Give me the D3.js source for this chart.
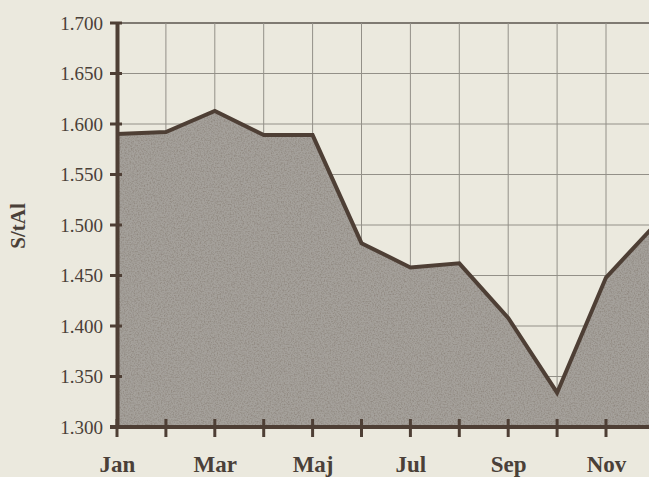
<!DOCTYPE html>
<html>
<head>
<meta charset="utf-8">
<script src="https://cdn.jsdelivr.net/npm/d3@7/dist/d3.min.js"></script>
<style>
html,body{margin:0;padding:0;background:#ebe9de;}
svg{display:block;}
</style>
</head>
<body>
<svg id="chart" width="649" height="477"></svg>
<script>
const months = ["Jan","Feb","Mar","Apr","Maj","Jun","Jul","Aug","Sep","Okt","Nov","Dec"];
const values = [1.590, 1.592, 1.613, 1.589, 1.589, 1.482, 1.458, 1.462, 1.408, 1.334, 1.448, 1.500];
const labelledMonths = ["Jan","Mar","Maj","Jul","Sep","Nov"];
const yTicks = [1.300, 1.350, 1.400, 1.450, 1.500, 1.550, 1.600, 1.650, 1.700];
const yTitle = "S/tAl";

(function () {
const svg = d3.select("#chart");
const W = 649, H = 477;
const mLeft = 117, mTop = 23, mBottom = 427;
const step = 48.9;

const x = d3.scalePoint().domain(months).range([mLeft, mLeft + step * (months.length - 1)]);
const y = d3.scaleLinear().domain([1.3, 1.7]).range([mBottom, mTop]);

svg.append("rect").attr("width", W).attr("height", H).attr("fill", "#ebe9de");

const ink = "#4e3f35";
const grid = "#939088";

// grid lines
svg.append("g").selectAll("line").data(yTicks.slice(1)).join("line")
  .attr("x1", mLeft).attr("x2", W)
  .attr("y1", d => y(d)).attr("y2", d => y(d))
  .attr("stroke", d => d === 1.7 ? "#7f7a72" : grid).attr("stroke-width", d => d === 1.7 ? 2.2 : 1);
svg.append("g").selectAll("line").data(months.slice(1)).join("line")
  .attr("x1", d => x(d)).attr("x2", d => x(d))
  .attr("y1", mTop).attr("y2", mBottom)
  .attr("stroke", grid).attr("stroke-width", 1);

// texture filter
const defs = svg.append("defs");
const f = defs.append("filter").attr("id", "grain").attr("x", 0).attr("y", 0).attr("width", 1).attr("height", 1);
f.append("feTurbulence").attr("type", "fractalNoise").attr("baseFrequency", 0.7).attr("numOctaves", 2).attr("seed", 3).attr("result", "n");
f.append("feColorMatrix").attr("in", "n").attr("type", "matrix")
  .attr("values", "0 0 0 0 0.28  0 0 0 0 0.25  0 0 0 0 0.22  0 0 0 -2.2 1.35").attr("result", "dark");
f.append("feComposite").attr("in", "dark").attr("in2", "SourceGraphic").attr("operator", "in").attr("result", "d2");
f.append("feMerge").selectAll("feMergeNode").data(["SourceGraphic", "d2"]).join("feMergeNode").attr("in", d => d);

const pts = months.map((m, i) => [m, values[i]]);
const area = d3.area().x(d => x(d[0])).y0(mBottom).y1(d => y(d[1])).curve(d3.curveLinear);
svg.append("path").datum(pts).attr("d", area).attr("fill", "#a5a19b").attr("filter", "url(#grain)");

const line = d3.line().x(d => x(d[0])).y(d => y(d[1]));
svg.append("path").datum(pts).attr("d", line)
  .attr("fill", "none").attr("stroke", ink).attr("stroke-width", 4).attr("stroke-linejoin", "miter");

// y axis
const yAxis = d3.axisLeft(y).tickValues(yTicks).tickFormat(d3.format(".3f")).tickSize(0).tickPadding(14);
const ya = svg.append("g").attr("transform", `translate(${mLeft},0)`).call(yAxis);
ya.select(".domain").attr("stroke", ink).attr("stroke-width", 4);
ya.selectAll("text").attr("font-family", "Liberation Serif, serif").attr("font-size", 19).attr("fill", "#4a4038").attr("dy", "0.32em");
svg.append("g").selectAll("line").data(yTicks).join("line")
  .attr("x1", mLeft - 7).attr("x2", mLeft + 5)
  .attr("y1", d => y(d)).attr("y2", d => y(d))
  .attr("stroke", ink).attr("stroke-width", 3);

// x axis
const xAxis = d3.axisBottom(x).tickValues(labelledMonths).tickSize(0).tickPadding(29);
const xa = svg.append("g").attr("transform", `translate(0,${mBottom})`).call(xAxis);
xa.select(".domain").attr("stroke", ink).attr("stroke-width", 4).attr("d", `M${mLeft - 7},0H${W}`);
xa.selectAll("text").attr("font-family", "Liberation Serif, serif").attr("font-weight", "bold").attr("font-size", 23).attr("fill", "#4a4038");
svg.append("g").selectAll("line").data(months).join("line")
  .attr("x1", d => x(d)).attr("x2", d => x(d))
  .attr("y1", mBottom - 8).attr("y2", mBottom + 10)
  .attr("stroke", ink).attr("stroke-width", 3);

// y title
svg.append("text").attr("transform", "translate(25,226) rotate(-90)")
  .attr("text-anchor", "middle")
  .attr("font-family", "Liberation Serif, serif").attr("font-weight", "bold").attr("font-size", 21)
  .attr("fill", "#4a4038").text(yTitle);
})();
</script>
</body>
</html>
